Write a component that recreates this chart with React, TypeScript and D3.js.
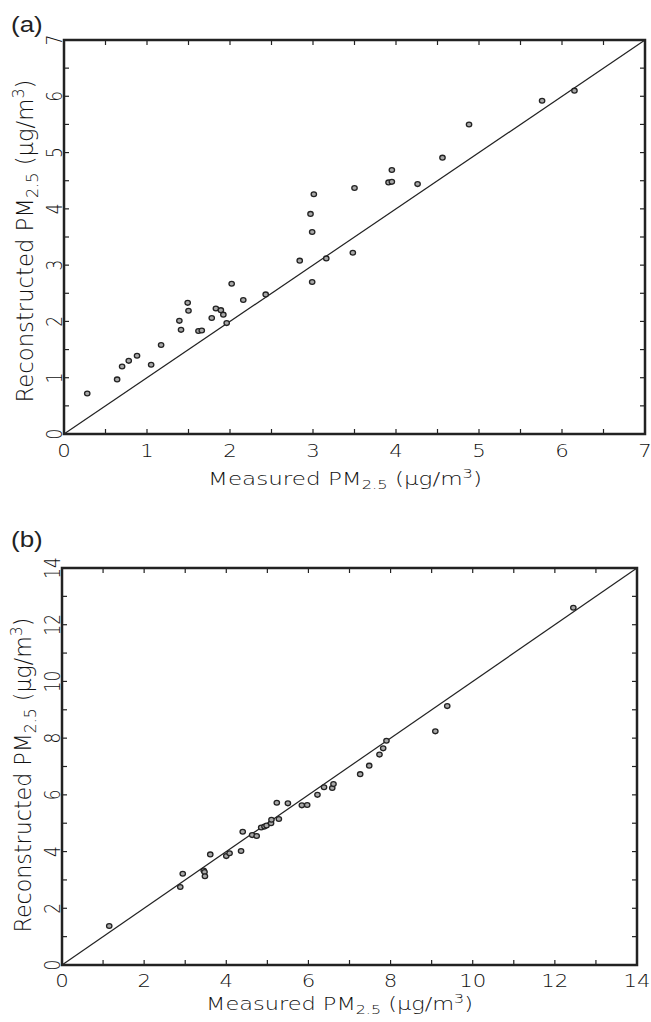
import React from "react";
import * as d3 from "d3";

// Panel (a) data: measured vs reconstructed PM2.5
const measuredA = [0.28, 0.64, 0.70, 0.78, 0.88, 1.05, 1.17, 1.39, 1.41, 1.49, 1.50, 1.62, 1.66, 1.78, 1.83, 1.89, 1.92, 1.96, 2.02, 2.16, 2.43, 2.84, 2.99, 2.99, 2.97, 3.01, 3.16, 3.48, 3.50, 3.95, 3.91, 3.95, 4.26, 4.56, 4.88, 5.76, 6.15];
const reconA = [0.72, 0.97, 1.20, 1.30, 1.39, 1.23, 1.58, 2.01, 1.85, 2.33, 2.19, 1.83, 1.84, 2.06, 2.23, 2.20, 2.12, 1.97, 2.67, 2.38, 2.48, 3.08, 2.70, 3.59, 3.91, 4.26, 3.12, 3.22, 4.37, 4.69, 4.47, 4.48, 4.44, 4.91, 5.50, 5.92, 6.10];

// Panel (b) data
const measuredB = [1.15, 2.88, 2.94, 3.45, 3.47, 3.48, 3.61, 4.00, 4.08, 4.36, 4.40, 4.63, 4.74, 4.85, 4.93, 4.98, 5.09, 5.10, 5.23, 5.28, 5.50, 5.84, 5.97, 6.22, 6.38, 6.58, 6.61, 7.26, 7.48, 7.73, 7.82, 7.90, 9.09, 9.38, 12.45];
const reconB = [1.375, 2.75, 3.22, 3.33, 3.28, 3.13, 3.90, 3.84, 3.94, 4.02, 4.70, 4.58, 4.55, 4.85, 4.88, 4.92, 5.00, 5.12, 5.72, 5.15, 5.70, 5.63, 5.64, 6.00, 6.27, 6.24, 6.38, 6.73, 7.03, 7.42, 7.64, 7.91, 8.24, 9.13, 12.60];

const ticksA = d3.range(0, 7.01, 0.5);
const labelsA = d3.range(0, 8, 1);
const ticksB = d3.range(0, 14.01, 1);
const labelsB = d3.range(0, 15, 2);

const panelLabels = ["(a)", "(b)"];

const INK = "#222";
const TXT = "#111";
const FONT = "'DejaVu Sans', 'Liberation Sans', sans-serif";
const W = 200;

type PanelProps = {
  xs: number[]; ys: number[]; max: number; ticks: number[]; labels: number[];
  left: number; right: number; top: number; bottom: number;
  yLabX: number; xLabY: number; xTitleY: number; xTitleX: number; xTitleLen: number;
  yTitleX: number; yTitleY: number; yTitleLen: number; label: string; labelY: number;
};

function Panel(p: PanelProps) {
  const x = d3.scaleLinear().domain([0, p.max]).range([p.left, p.right]);
  const y = d3.scaleLinear().domain([0, p.max]).range([p.bottom, p.top]);
  const tl = 5;
  const diag = d3.line<number>().x((v) => x(v)).y((v) => y(v));
  return (
    <g>
      <text x={0} y={0} fontFamily="'Liberation Sans', Arial, sans-serif" fontSize={22} fill="#222"
        transform={`translate(11,${p.labelY}) scale(1.18,1)`}>{p.label}</text>
      {p.ticks.map((t, i) => (
        <g key={i} stroke={INK} strokeWidth={1.2}>
          <line x1={x(t)} x2={x(t)} y1={p.bottom} y2={p.bottom - tl} />
          <line x1={x(t)} x2={x(t)} y1={p.top} y2={p.top + tl} />
          <line x1={p.left} x2={p.left + tl} y1={y(t)} y2={y(t)} />
          <line x1={p.right} x2={p.right - tl} y1={y(t)} y2={y(t)} />
        </g>
      ))}
      <path d={diag([0, p.max]) || ""} stroke={INK} strokeWidth={1.2} fill="none" />
      <rect x={p.left} y={p.top} width={p.right - p.left} height={p.bottom - p.top}
        fill="none" stroke={INK} strokeWidth={2.5} />
      {p.xs.map((v, i) => (
        <ellipse key={i} cx={x(v)} cy={y(p.ys[i])} rx={2.7} ry={2.4} fill="#a8a8a8" stroke={INK} strokeWidth={1.3} />
      ))}
      {p.labels.map((t, i) => (
        <text key={i} transform={`translate(${x(t)},${p.xLabY}) scale(1.25,1)`} textAnchor="middle"
          fontFamily={FONT} fontWeight={W} fontSize={17} fill={TXT}>{t}</text>
      ))}
      {p.labels.map((t, i) => (
        <text key={i} transform={`translate(${p.yLabX},${y(t)}) scale(1.25,1) rotate(-90)`} textAnchor="middle"
          fontFamily={FONT} fontWeight={W} fontSize={17} fill={TXT}>{t}</text>
      ))}
      <text x={p.xTitleX} y={p.xTitleY} fontFamily={FONT} fontWeight={W} fontSize={17} fill={TXT}
        textLength={p.xTitleLen} lengthAdjust="spacingAndGlyphs">
        Measured PM<tspan fontSize={12} dy={4}>2.5</tspan><tspan dy={-4}> (μg/m</tspan><tspan fontSize={12} dy={-7}>3</tspan><tspan dy={7}>)</tspan>
      </text>
      <text transform={`translate(${p.yTitleX},${p.yTitleY}) scale(1.35,1) rotate(-90)`} textAnchor="middle"
        fontFamily={FONT} fontWeight={W} fontSize={17} fill={TXT} textLength={p.yTitleLen} lengthAdjust="spacingAndGlyphs">
        Reconstructed PM<tspan fontSize={12} dy={4}>2.5</tspan><tspan dy={-4}> (μg/m</tspan><tspan fontSize={12} dy={-7}>3</tspan><tspan dy={7}>)</tspan>
      </text>
    </g>
  );
}

export default function App() {
  return (
    <svg width={651} height={1022} style={{ position: "absolute", left: 0, top: 0, background: "#fff" }}>
      <rect width={651} height={1022} fill="#fff" />
      <Panel xs={measuredA} ys={reconA} max={7} ticks={ticksA} labels={labelsA}
        left={64} right={645} top={40} bottom={434} yLabX={62} xLabY={457}
        xTitleY={485} xTitleX={208} xTitleLen={274} yTitleX={33} yTitleY={241} yTitleLen={323}
        label={panelLabels[0]} labelY={32} />
      <Panel xs={measuredB} ys={reconB} max={14} ticks={ticksB} labels={labelsB}
        left={62} right={637} top={568} bottom={965} yLabX={60} xLabY={987}
        xTitleY={1010} xTitleX={206} xTitleLen={267} yTitleX={31} yTitleY={775} yTitleLen={315}
        label={panelLabels[1]} labelY={547} />
    </svg>
  );
}
